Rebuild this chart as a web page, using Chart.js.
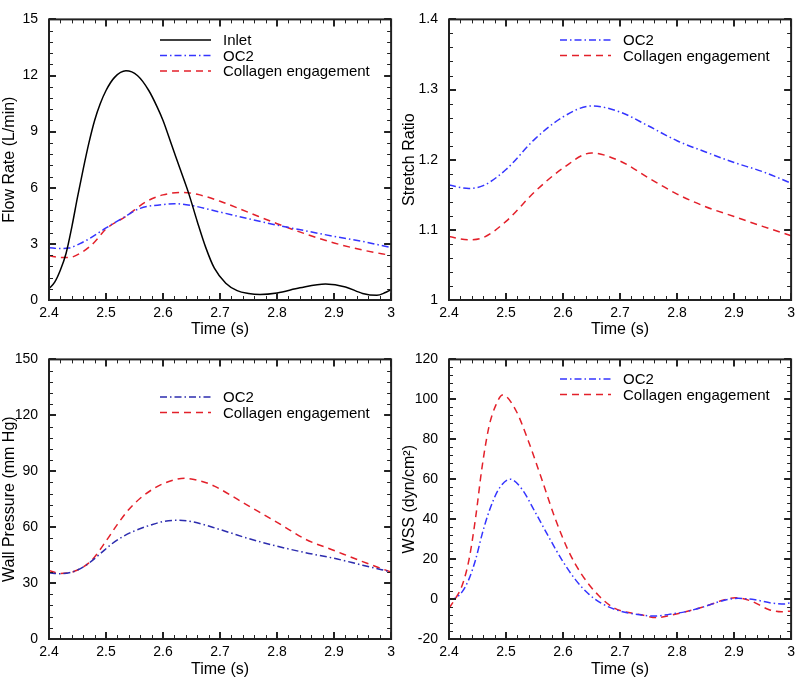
<!DOCTYPE html>
<html>
<head>
<meta charset="utf-8">
<script src="https://cdn.jsdelivr.net/npm/chart.js@4.4.1/dist/chart.umd.min.js"></script>
<style>
  body { margin: 0; background: #fff; }
  #wrap { position: relative; width: 800px; height: 680px; }
  #wrap canvas { position: absolute; }
</style>
</head>
<body>
<div id="wrap">
  <canvas id="flow" width="400" height="340" style="left:0;top:0"></canvas>
  <canvas id="stretch" width="400" height="340" style="left:400px;top:0"></canvas>
  <canvas id="pressure" width="400" height="340" style="left:0;top:340px"></canvas>
  <canvas id="wss" width="400" height="340" style="left:400px;top:340px"></canvas>
</div>
<script>
// flow rate (L/min)
const inletTime = [2.40, 2.41, 2.42, 2.43, 2.44, 2.45, 2.46, 2.47, 2.48, 2.49, 2.50, 2.515, 2.535, 2.555, 2.575, 2.59, 2.60, 2.615, 2.63, 2.645, 2.66, 2.675, 2.69, 2.71, 2.73, 2.75, 2.77, 2.80, 2.84, 2.885, 2.92, 2.95, 2.975, 2.99, 3.00];
const inletFlow = [0.6, 0.95, 1.6, 2.5, 3.9, 5.5, 7.0, 8.4, 9.6, 10.5, 11.2, 11.9, 12.25, 12.0, 11.2, 10.3, 9.6, 8.3, 7.0, 5.7, 4.2, 2.8, 1.7, 0.9, 0.5, 0.35, 0.3, 0.38, 0.65, 0.85, 0.7, 0.35, 0.25, 0.4, 0.55];
const oc2FlowTime = [2.40, 2.42, 2.435, 2.46, 2.47, 2.50, 2.53, 2.56, 2.60, 2.62, 2.65, 2.70, 2.75, 2.80, 2.85, 2.90, 2.95, 3.00];
const oc2Flow = [2.79, 2.75, 2.78, 3.1, 3.26, 3.85, 4.4, 4.9, 5.1, 5.15, 5.05, 4.7, 4.34, 4.0, 3.7, 3.4, 3.13, 2.8];
const colFlowTime = [2.40, 2.42, 2.435, 2.46, 2.48, 2.50, 2.535, 2.57, 2.60, 2.635, 2.66, 2.70, 2.75, 2.80, 2.85, 2.90, 2.95, 3.00];
const colFlow = [2.36, 2.27, 2.27, 2.6, 3.1, 3.8, 4.47, 5.25, 5.62, 5.75, 5.65, 5.28, 4.68, 4.08, 3.53, 3.05, 2.67, 2.38];

// stretch ratio
const stretchTime = [2.40, 2.435, 2.46, 2.50, 2.55, 2.60, 2.65, 2.70, 2.75, 2.80, 2.85, 2.90, 2.95, 3.00];
const oc2Stretch = [1.1638, 1.159, 1.163, 1.186, 1.229, 1.261, 1.2766, 1.268, 1.248, 1.227, 1.211, 1.196, 1.183, 1.1665];
const colStretch = [1.0904, 1.0858, 1.089, 1.112, 1.154, 1.188, 1.2096, 1.198, 1.174, 1.151, 1.133, 1.119, 1.105, 1.0917];

// wall pressure (mm Hg)
const oc2PressTime = [2.40, 2.42, 2.44, 2.45, 2.47, 2.49, 2.51, 2.53, 2.55, 2.58, 2.60, 2.625, 2.65, 2.70, 2.75, 2.80, 2.85, 2.90, 2.95, 3.00];
const oc2Press = [35.5, 35.0, 35.9, 37.0, 40.7, 45.8, 51.0, 55.0, 58.0, 61.3, 63.0, 63.7, 63.0, 58.7, 53.9, 49.8, 46.3, 43.3, 39.6, 36.0];
const colPressTime = [2.40, 2.42, 2.44, 2.45, 2.47, 2.48, 2.50, 2.52, 2.54, 2.56, 2.58, 2.60, 2.638, 2.67, 2.69, 2.75, 2.807, 2.85, 2.90, 2.95, 3.00];
const colPress = [36.7, 35.2, 35.9, 37.0, 40.8, 44.0, 52.5, 61.5, 69.5, 75.5, 80.0, 83.3, 86.2, 84.4, 82.0, 71.4, 61.3, 53.5, 47.5, 41.5, 35.9];

// wall shear stress (dyn/cm2)
const oc2WssTime = [2.40, 2.41, 2.423, 2.435, 2.4465, 2.458, 2.47, 2.487, 2.5076, 2.528, 2.551, 2.574, 2.598, 2.621, 2.644, 2.667, 2.70, 2.735, 2.76, 2.79, 2.82, 2.85, 2.88, 2.907, 2.937, 2.966, 2.989, 3.00];
const oc2Wss = [-0.2, 0.35, 3.6, 10, 19.6, 32.4, 43.6, 54.9, 60.0, 55, 43.6, 31.6, 19.6, 10, 2.75, -2.1, -6.0, -7.9, -8.5, -7.5, -6.0, -3.6, -0.8, 0.35, -0.4, -2.0, -2.5, -1.6];
const colWssTime = [2.40, 2.4116, 2.423, 2.435, 2.4465, 2.458, 2.47, 2.482, 2.494, 2.5163, 2.5395, 2.563, 2.586, 2.609, 2.6326, 2.6616, 2.69, 2.737, 2.765, 2.79, 2.82, 2.85, 2.88, 2.902, 2.93, 2.9605, 2.983, 3.00];
const colWss = [-4.5, 0.35, 6.8, 19.6, 40.4, 66.1, 86.2, 97, 102.2, 95, 78.9, 59.7, 40.5, 24.4, 12.4, 2.0, -4.5, -7.9, -9.3, -8.0, -6.0, -3.6, -0.6, 0.7, -1.0, -5.2, -6.4, -6.0];

const BLUE = "#3535ff";
const DARKBLUE = "#2c2cae";
const RED = "#e3202a";

Chart.defaults.font.family = "Arial, 'Liberation Sans', sans-serif";
Chart.defaults.color = "#000";

function pts(times, values) {
  return times.map((t, i) => ({ x: t, y: values[i] }));
}

function solid(label, times, values) {
  return { label, data: pts(times, values), borderColor: "#000", borderWidth: 1.5 };
}
function dashDot(label, times, values, color) {
  return { label, data: pts(times, values), borderColor: color || BLUE, borderWidth: 1.5, borderDash: [7, 3, 1.5, 3] };
}
function dashed(label, times, values) {
  return { label, data: pts(times, values), borderColor: RED, borderWidth: 1.5, borderDash: [7, 5] };
}

// plain number labels: 1.4 not 1.40, 3 not 3.0
const plainLabel = v => String(Math.round(v * 1000) / 1000);

// box, inward ticks and in-plot legend
const framePlugin = {
  id: "frame",
  afterDraw(chart, args, opts) {
    const { ctx, chartArea: a, scales: { x, y } } = chart;
    ctx.save();
    ctx.strokeStyle = "#222";
    ctx.setLineDash([]);

    ctx.lineWidth = 1;
    ctx.beginPath();
    let n = Math.round((x.max - x.min) / opts.xMinor);
    for (let i = 1; i < n; i++) {
      const px = Math.round(x.getPixelForValue(x.min + i * opts.xMinor)) + 0.5;
      ctx.moveTo(px, a.bottom); ctx.lineTo(px, a.bottom - 4);
      ctx.moveTo(px, a.top); ctx.lineTo(px, a.top + 4);
    }
    n = Math.round((y.max - y.min) / opts.yMinor);
    for (let i = 1; i < n; i++) {
      const py = Math.round(y.getPixelForValue(y.min + i * opts.yMinor)) + 0.5;
      ctx.moveTo(a.left, py); ctx.lineTo(a.left + 4, py);
      ctx.moveTo(a.right, py); ctx.lineTo(a.right - 4, py);
    }
    ctx.stroke();

    ctx.lineWidth = 2;
    ctx.beginPath();
    x.ticks.forEach(t => {
      const px = Math.round(x.getPixelForValue(t.value));
      ctx.moveTo(px, a.bottom); ctx.lineTo(px, a.bottom - 7);
      ctx.moveTo(px, a.top); ctx.lineTo(px, a.top + 7);
    });
    y.ticks.forEach(t => {
      const py = Math.round(y.getPixelForValue(t.value));
      ctx.moveTo(a.left, py); ctx.lineTo(a.left + 7, py);
      ctx.moveTo(a.right, py); ctx.lineTo(a.right - 7, py);
    });
    ctx.stroke();
    ctx.strokeRect(a.left, a.top, a.width, a.height);

    // legend
    ctx.font = "15px Arial, 'Liberation Sans', sans-serif";
    ctx.textBaseline = "middle";
    ctx.fillStyle = "#000";
    chart.data.datasets.forEach((ds, i) => {
      const ly = opts.legendY + i * opts.legendGap;
      ctx.strokeStyle = ds.borderColor;
      ctx.lineWidth = ds.borderWidth;
      ctx.setLineDash(ds.borderDash || []);
      ctx.beginPath();
      ctx.moveTo(opts.legendX, ly);
      ctx.lineTo(opts.legendX + 51, ly);
      ctx.stroke();
      ctx.setLineDash([]);
      ctx.fillText(ds.label, opts.legendX + 63, ly + 1);
    });
    ctx.restore();
  }
};

function makeChart(id, datasets, yMin, yMax, yStep, yMinor, yTitle, plotTop, legendY) {
  return new Chart(document.getElementById(id), {
    type: "line",
    data: { datasets },
    plugins: [framePlugin],
    options: {
      responsive: false,
      animation: false,
      layout: { padding: { top: plotTop, right: 7, left: 0, bottom: 0 } },
      elements: { point: { radius: 0 }, line: { cubicInterpolationMode: "monotone", fill: false } },
      plugins: {
        legend: { display: false },
        tooltip: { enabled: false },
        frame: { xMinor: 0.02, yMinor, legendX: 160, legendY, legendGap: 15.5 }
      },
      scales: {
        x: {
          type: "linear", min: 2.4, max: 3,
          grid: { display: false, drawTicks: false },
          border: { display: false },
          ticks: { stepSize: 0.1, autoSkip: false, maxRotation: 0, padding: 5, font: { size: 14 }, callback: plainLabel },
          title: { display: true, text: "Time (s)", font: { size: 16 }, padding: { top: 0, bottom: 1 } },
          afterFit: s => { s.height = 340 - plotTop - 291; }
        },
        y: {
          min: yMin, max: yMax,
          grid: { display: false, drawTicks: false },
          border: { display: false },
          ticks: { stepSize: yStep, padding: 11, font: { size: 14 }, callback: plainLabel },
          title: { display: true, text: yTitle, font: { size: 16 }, padding: 0 },
          afterFit: s => { s.width = 49; }
        }
      }
    }
  });
}

makeChart("flow", [
  solid("Inlet", inletTime, inletFlow),
  dashDot("OC2", oc2FlowTime, oc2Flow),
  dashed("Collagen engagement", colFlowTime, colFlow)
], 0, 15, 3, 0.6, "Flow Rate (L/min)", 9, 40);

makeChart("stretch", [
  dashDot("OC2", stretchTime, oc2Stretch),
  dashed("Collagen engagement", stretchTime, colStretch)
], 1, 1.4, 0.1, 0.02, "Stretch Ratio", 9, 40);

makeChart("pressure", [
  dashDot("OC2", oc2PressTime, oc2Press, DARKBLUE),
  dashed("Collagen engagement", colPressTime, colPress)
], 0, 150, 30, 6, "Wall Pressure (mm Hg)", 8, 57);

makeChart("wss", [
  dashDot("OC2", oc2WssTime, oc2Wss),
  dashed("Collagen engagement", colWssTime, colWss)
], -20, 120, 20, 4, "WSS (dyn/cm²)", 8, 39);
</script>
</body>
</html>
